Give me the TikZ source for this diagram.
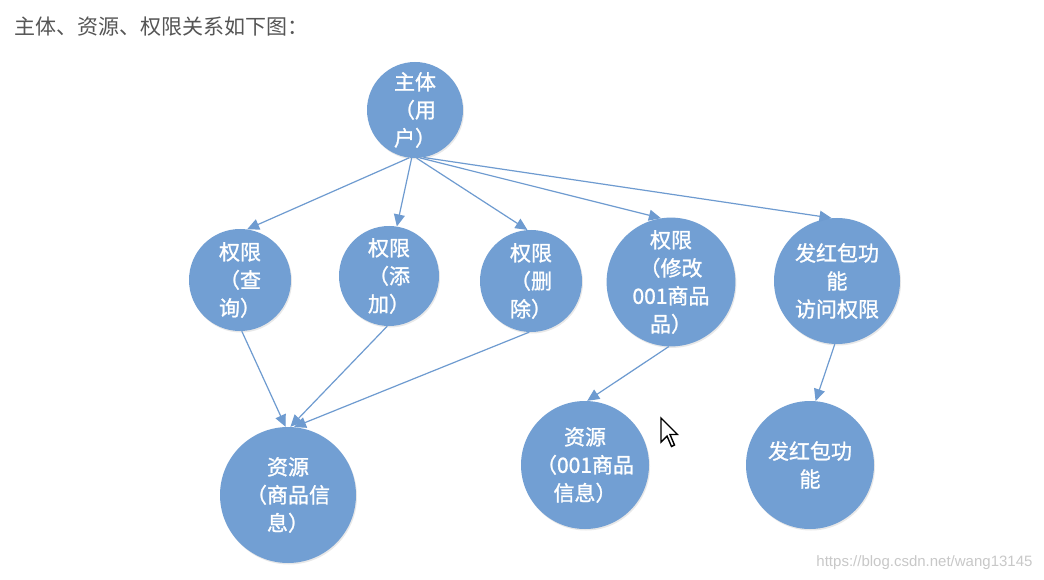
\documentclass[tikz,border=0pt]{standalone}
\usepackage{fontspec}
\setmainfont{Noto Sans CJK SC}
\newfontfamily\bubblefont[FakeBold=1.2]{Noto Sans CJK SC}
\newfontfamily\wmfont{Liberation Sans}
\usetikzlibrary{arrows.meta,shadows}
\definecolor{nodeblue}{RGB}{114,159,211}
\definecolor{edgeblue}{RGB}{110,155,208}
\definecolor{titlegray}{RGB}{85,85,85}
\definecolor{wmgray}{RGB}{200,200,200}
\tikzset{
  bubble/.style={circle, fill=nodeblue, text=white, align=center, inner sep=0pt,
    font=\bubblefont\fontsize{21}{28}\selectfont,
    drop shadow={opacity=0.18, shadow xshift=1pt, shadow yshift=-1.5pt}},
  link/.style={draw=edgeblue, line width=1.2pt, -{Triangle[length=12pt,width=11pt]}}
}
\begin{document}
\begin{tikzpicture}[x=1pt,y=-1pt]
\useasboundingbox (0,0) rectangle (1044,580);
\fill[white] (0,0) rectangle (1044,580);

\node[anchor=west, text=titlegray, font=\fontsize{21}{24}\selectfont] (title) at (11,27) {主体、资源、权限关系如下图：};

\node[bubble, minimum size=96pt] (u) at (415,110) {主体\\（用\\户）};
\node[bubble, minimum size=102pt] (q) at (240,280) {权限\\（查\\询）};
\node[bubble, minimum size=100pt] (a) at (389,276) {权限\\（添\\加）};
\node[bubble, minimum size=102pt] (d) at (531,281) {权限\\（删\\除）};
\node[bubble, minimum size=104pt] (m) at (671,282) {权限\\（修改\\001商品\\品）};
\node[bubble, minimum size=126pt] (h) at (837,281) {发红包功\\能\\访问权限};
\node[bubble, minimum size=136pt] (r1) at (288,495) {资源\\（商品信\\息）};
\node[bubble, minimum size=128pt] (r2) at (585,465) {资源\\（001商品\\信息）};
\node[bubble, minimum size=128pt] (h2) at (810,465) {发红包功\\能};

\draw[link] (u.263) -- (q.82);
\draw[link] (u.266) -- (a.81);
\draw[link] (u.272) -- (d.94);
\draw[link] (u.276) -- (m.99);
\draw[link] (u.280) -- (h.95);

\draw[link] (q.272) -- (r1.92);
\draw[link] (a.268) -- (r1.88);
\draw[link] (d.268) -- (r1.85);
\draw[link] (m.268) -- (r2.88);
\draw[link] (h.268) -- (h2.85);

% mouse pointer
\draw[fill=white, draw=black, line width=1.4pt, line join=miter]
  (661,418) -- (661,442) -- (667,436) -- (671.5,446.5) -- (674.5,445) -- (670,434.5) -- (677.5,434.5) -- cycle;

\node[anchor=east, text=wmgray, font=\wmfont\fontsize{15}{18}\selectfont] (wm) at (1036,563) {https://blog.csdn.net/wang13145};
\end{tikzpicture}
\end{document}
